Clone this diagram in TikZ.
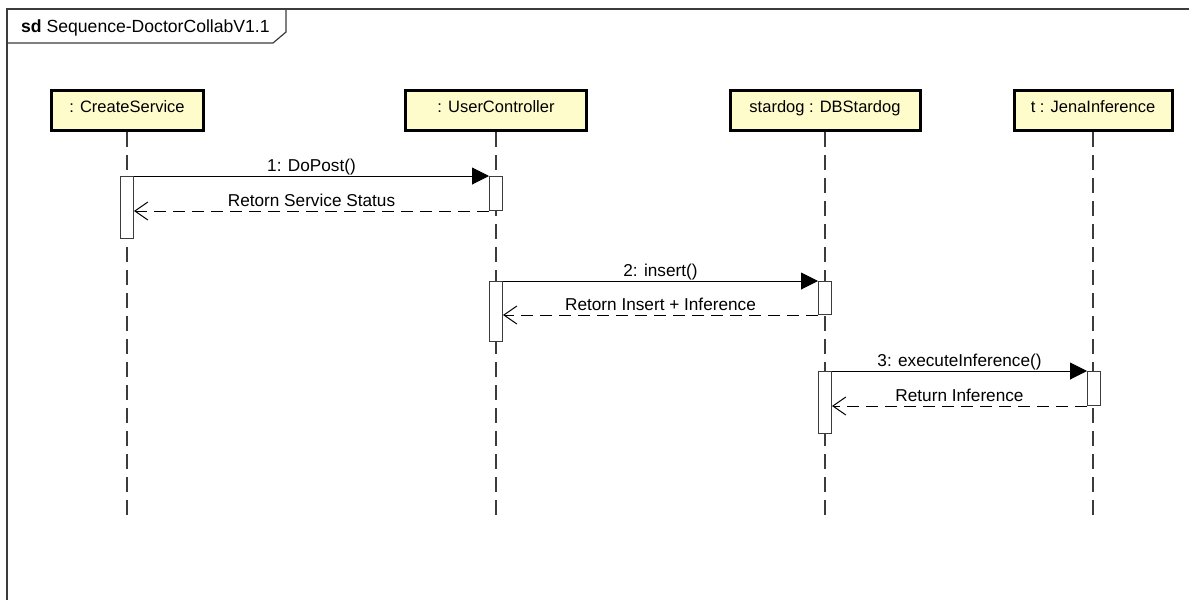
\documentclass[tikz,border=0pt]{standalone}
\usepackage{fontspec}
\setmainfont{Liberation Sans}
\usetikzlibrary{arrows.meta}
\definecolor{headfill}{RGB}{255,252,204}
\definecolor{linegray}{RGB}{60,60,60}
\begin{document}
\begin{tikzpicture}[x=1pt,y=-1pt,
  lbl/.style={font=\fontsize{17.2}{19}\selectfont},
  head/.style={font=\fontsize{16.5}{19}\selectfont, draw=black, line width=3pt, fill=headfill, minimum height=40pt, inner sep=0pt, text height=11pt, text depth=7pt, anchor=north},
  lifeline/.style={draw=linegray, line width=1.3pt, dash pattern=on 15pt off 8pt},
  actbar/.style={draw=linegray, fill=white, line width=1pt, minimum width=13pt, inner sep=0pt, anchor=north},
  callmsg/.style={draw=black, line width=1pt, -{Triangle[length=17pt,width=17pt]}},
  retmsg/.style={draw=black, line width=1pt, dash pattern=on 12pt off 7pt, -{Straight Barb[length=13pt,width=18pt,line width=1pt]}},
  msglbl/.style={lbl, anchor=base, inner sep=0pt, midway, yshift=5pt}
]
\useasboundingbox (0,0) rectangle (1189,600);
% frame
\draw[draw=linegray, line width=1.4pt] (7,600) -- (7,9) -- (1189,9);
\draw[draw=linegray, line width=1.2pt] (7,43) -- (273,43) -- (286,32) -- (286,9);
\node[font=\fontsize{17.6}{20}\selectfont, anchor=base west, inner sep=0pt] (title) at (21,32) {\textbf{sd} Sequence-DoctorCollabV1.1};

% heads
\node[head, minimum width=152pt] (cs) at (127,89) {: CreateService};
\node[head, minimum width=181pt] (uc) at (496,89) {: UserController};
\node[head, minimum width=190pt] (sd) at (825,89) {stardog : DBStardog};
\node[head, minimum width=158pt] (ji) at (1093,89) {t : JenaInference};

\coordinate (bottom) at (0,515);
\draw[lifeline] (cs.south) -- (cs.south |- bottom);
\draw[lifeline] (uc.south) -- (uc.south |- bottom);
\draw[lifeline] (sd.south) -- (sd.south |- bottom);
\draw[lifeline] (ji.south) -- (ji.south |- bottom);

% activation bars
\node[actbar, minimum height=62pt] (csA) at (127,176) {};
\node[actbar, minimum height=34pt] (ucA) at (496,176) {};
\node[actbar, minimum height=60pt] (ucB) at (496,281) {};
\node[actbar, minimum height=33pt] (sdA) at (825,281) {};
\node[actbar, minimum height=62pt] (sdB) at (825,371) {};
\node[actbar, minimum height=34pt] (jiA) at (1094,371) {};

% messages
\draw[callmsg] (csA.north east) -- (ucA.north west) node[msglbl] {1: DoPost()};
\draw[retmsg] (ucA.south west) -- (csA.east |- ucA.south) node[msglbl] {Retorn Service Status};
\draw[callmsg] (ucB.north east) -- (sdA.north west) node[msglbl] {2: insert()};
\draw[retmsg] (sdA.south west) -- (ucB.east |- sdA.south) node[msglbl] {Retorn Insert + Inference};
\draw[callmsg] (sdB.north east) -- (jiA.north west) node[msglbl] {3: executeInference()};
\draw[retmsg] (jiA.south west) -- (sdB.east |- jiA.south) node[msglbl] {Return Inference};
\end{tikzpicture}
\end{document}
